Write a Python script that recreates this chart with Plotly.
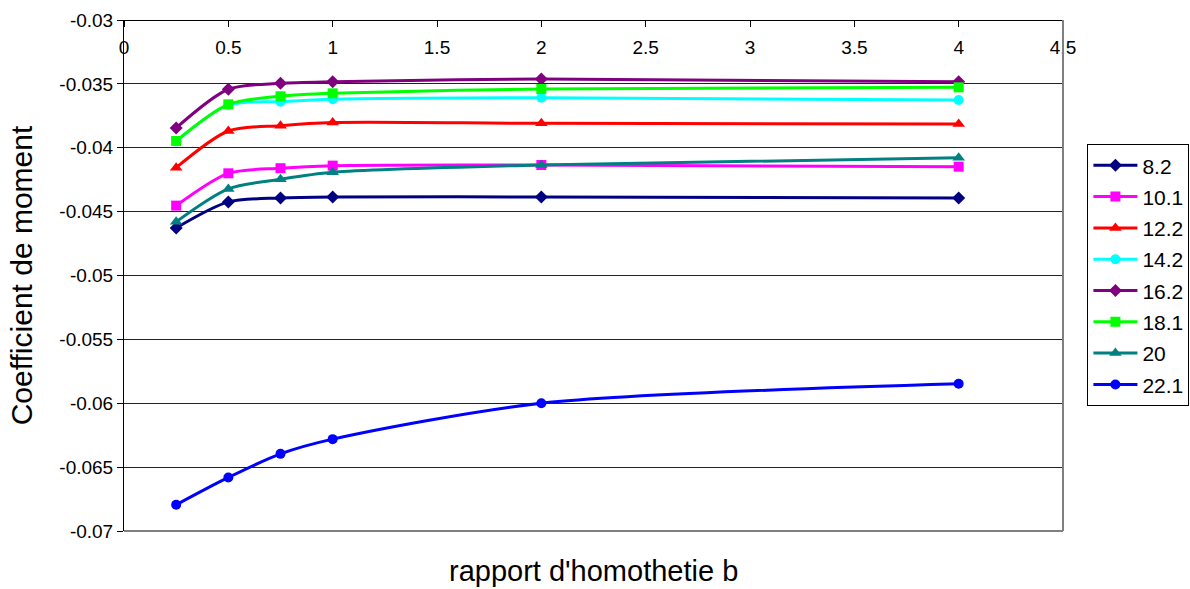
import plotly.graph_objects as go

x_vals = [0.25, 0.5, 0.75, 1, 2, 4]

series_names = ["8.2", "10.1", "12.2", "14.2", "16.2", "18.1", "20", "22.1"]
s_8_2 = [-0.04628, -0.04424, -0.04393, -0.04385, -0.04385, -0.04393]
s_10_1 = [-0.04453, -0.04200, -0.04160, -0.04140, -0.04135, -0.04148]
s_12_2 = [-0.04156, -0.03869, -0.03827, -0.03803, -0.03809, -0.03814]
s_14_2 = [-0.03950, -0.03665, -0.03639, -0.03620, -0.03608, -0.03626]
s_16_2 = [-0.03845, -0.03542, -0.03496, -0.03483, -0.03462, -0.03483]
s_18_1 = [-0.03947, -0.03660, -0.03597, -0.03574, -0.03540, -0.03527]
s_20 = [-0.04580, -0.04322, -0.04247, -0.04192, -0.04135, -0.04078]
s_22_1 = [-0.06795, -0.06581, -0.06396, -0.06281, -0.06000, -0.05848]

series_values = [s_8_2, s_10_1, s_12_2, s_14_2, s_16_2, s_18_1, s_20, s_22_1]
colors = ["#000080", "#FF00FF", "#FF0000", "#00FFFF", "#800080", "#00FF00", "#008080", "#0000FF"]
symbols = ["diamond", "square", "triangle-up", "circle", "diamond", "square", "triangle-up", "circle"]
sizes = [10, 10, 11, 10, 10, 10, 11, 10]

y_ticks = [-0.03, -0.035, -0.04, -0.045, -0.05, -0.055, -0.06, -0.065, -0.07]
y_ticktext = ["-0.03", "-0.035", "-0.04", "-0.045", "-0.05", "-0.055", "-0.06", "-0.065", "-0.07"]
x_ticks = [0, 0.5, 1, 1.5, 2, 2.5, 3, 3.5, 4, 4.5]
x_ticktext = ["0", "0.5", "1", "1.5", "2", "2.5", "3", "3.5", "4", "4.5"]

font_family = "Liberation Sans, Arial, sans-serif"

fig = go.Figure()
for name, vals, c, sym, sz in zip(series_names, series_values, colors, symbols, sizes):
    fig.add_trace(go.Scatter(
        x=x_vals, y=vals, name=name, mode="lines+markers", legendgroup=name,
        line=dict(color=c, width=3, shape="spline", smoothing=0.8),
        marker=dict(color=c, symbol=sym, size=sz),
    ))

fig.update_layout(
    width=1190, height=589,
    margin=dict(l=124, r=127, t=20, b=58, autoexpand=False),
    paper_bgcolor="white", plot_bgcolor="white",
    font=dict(family=font_family, color="black", size=19),
    showlegend=True,
    legend=dict(
        x=1.026, y=0.757, xanchor="left", yanchor="top",
        bordercolor="black", borderwidth=1,
        font=dict(size=21, family=font_family, color="black"),
        itemwidth=44, tracegroupgap=1, traceorder="grouped",
    ),
    xaxis=dict(
        range=[0, 4.5], side="bottom", anchor="free", position=1,
        tickvals=x_ticks, ticktext=x_ticktext,
        ticks="outside", ticklen=6, tickcolor="black", ticklabelstandoff=4,
        showline=True, linecolor="black", linewidth=1, showgrid=False, zeroline=False,
        tickfont=dict(size=19, color="black"),
    ),
    yaxis=dict(
        range=[-0.07, -0.03], domain=[0, 1], tickvals=y_ticks, ticktext=y_ticktext,
        ticks="outside", ticklen=6, tickcolor="black",
        showline=True, linecolor="black", linewidth=1,
        showgrid=True, gridcolor="#222222", gridwidth=1, zeroline=False,
        tickfont=dict(size=19, color="black"),
        title=dict(text="Coefficient de moment", font=dict(size=30, color="black"), standoff=17),
    ),
    shapes=[
        dict(type="line", xref="paper", yref="paper", x0=1, x1=1, y0=0, y1=1,
             line=dict(color="#808080", width=2)),
        dict(type="line", xref="paper", yref="paper", x0=0, x1=1, y0=0, y1=0,
             line=dict(color="#808080", width=2)),
    ],
    annotations=[
        dict(text="rapport d'homothetie b", xref="paper", yref="paper",
             x=0.5, y=0, yshift=-40, showarrow=False,
             font=dict(size=29, family=font_family, color="black"),
             xanchor="center", yanchor="middle"),
    ],
)

fig.write_html("out.html")
